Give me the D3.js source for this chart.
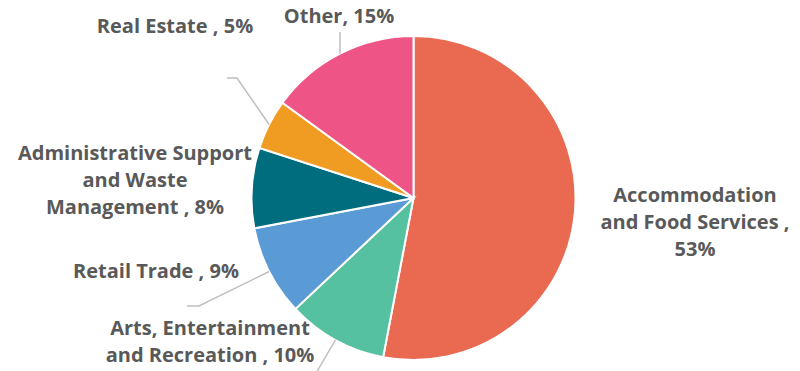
<!DOCTYPE html>
<html>
<head>
<meta charset="utf-8">
<script src="https://cdn.jsdelivr.net/npm/d3@7"></script>
<style>
  body { margin: 0; background: #fff; }
  text { font-family: "Open Sans", sans-serif; font-weight: 700; fill: #595959; }
</style>
</head>
<body>
<div id="chart-area"></div>
<script>
// data
var categories = ["Accommodation and Food Services", "Arts, Entertainment and Recreation",
    "Retail Trade", "Administrative Support and Waste Management", "Real Estate", "Other"];
var shares = [53, 10, 9, 8, 5, 15];
var colors = ["#E96A51", "#56C1A1", "#5B9BD5", "#006D7F", "#F09C22", "#EE5486"];

// label lines as they wrap in the picture
var labelLines = [
    ["Accommodation", "and Food Services ,", "53%"],
    ["Arts, Entertainment", "and Recreation , 10%"],
    ["Retail Trade , 9%"],
    ["Administrative Support", "and Waste", "Management , 8%"],
    ["Real Estate , 5%"],
    ["Other, 15%"]
];

// layout (label centre x, first baseline y, leader line bend points)
var labelLayout = [
    { x: 695, y: 202, leader: null },
    { x: 210, y: 335, leader: [[315, 375]] },
    { x: 156, y: 278, leader: [[199, 306], [187, 306]] },
    { x: 135, y: 160, leader: null },
    { x: 175, y: 33, leader: [[237, 78], [227, 78]] },
    { x: 339, y: 23, leader: [[340, 32]] }
];

var width = 800, height = 371;
var cx = 413.5, cy = 198, radius = 162;

var svg = d3.select("#chart-area")
    .append("svg")
        .attr("width", width)
        .attr("height", height);

var g = svg.append("g")
    .attr("transform", "translate(" + cx + "," + cy + ")");

var pie = d3.pie()
    .value(function(d){ return d; })
    .sort(null);

var arc = d3.arc()
    .innerRadius(0)
    .outerRadius(radius);

var arcs = pie(shares);

g.selectAll("path.slice")
    .data(arcs)
    .enter()
    .append("path")
        .attr("class", "slice")
        .attr("d", arc)
        .attr("fill", function(d, i){ return colors[i]; })
        .attr("stroke", "#fff")
        .attr("stroke-width", 2);

// leader lines start on the rim at each slice's middle angle
var line = d3.line();
arcs.forEach(function(d, i){
    var lay = labelLayout[i];
    if (!lay.leader) return;
    var a = (d.startAngle + d.endAngle) / 2;
    var start = [cx + radius * Math.sin(a), cy - radius * Math.cos(a)];
    svg.append("path")
        .attr("d", line([start].concat(lay.leader)))
        .attr("fill", "none")
        .attr("stroke", "#BFBFBF")
        .attr("stroke-width", 1.5);
});

labelLines.forEach(function(lines, i){
    var lay = labelLayout[i];
    var t = svg.append("text")
        .attr("text-anchor", "middle")
        .attr("font-size", "20px");
    lines.forEach(function(s, k){
        t.append("tspan")
            .attr("x", lay.x)
            .attr("y", lay.y + k * 27)
            .text(s);
    });
});
</script>
</body>
</html>
